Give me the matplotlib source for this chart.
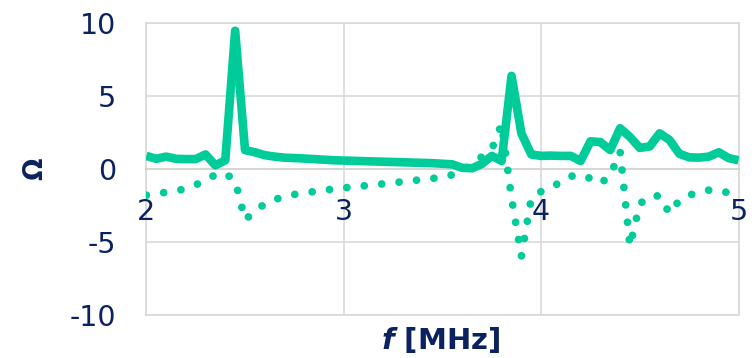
import matplotlib
matplotlib.use("Agg")
import matplotlib.pyplot as plt

# Frequency sweep (MHz) and impedance components (ohm)
freq = [2.00, 2.05, 2.10, 2.15, 2.20, 2.25, 2.30, 2.35, 2.40, 2.45,
        2.50, 2.55, 2.60, 2.65, 2.70, 2.75, 2.80, 2.85, 2.90, 2.95,
        3.00, 3.05, 3.10, 3.15, 3.20, 3.25, 3.30, 3.35, 3.40, 3.45,
        3.50, 3.55, 3.60, 3.65, 3.70, 3.75, 3.80, 3.85, 3.90, 3.95,
        4.00, 4.05, 4.10, 4.15, 4.20, 4.25, 4.30, 4.35, 4.40, 4.45,
        4.50, 4.55, 4.60, 4.65, 4.70, 4.75, 4.80, 4.85, 4.90, 4.95,
        5.00]

resistance = [0.90, 0.70, 0.85, 0.70, 0.68, 0.68, 1.00, 0.25, 0.60, 9.50,
              1.30, 1.15, 0.95, 0.85, 0.78, 0.75, 0.72, 0.68, 0.64, 0.60,
              0.58, 0.56, 0.54, 0.52, 0.50, 0.48, 0.46, 0.44, 0.42, 0.40,
              0.36, 0.32, 0.08, 0.05, 0.35, 0.90, 0.55, 6.40, 2.45, 1.00,
              0.90, 0.92, 0.90, 0.90, 0.55, 1.90, 1.85, 1.30, 2.80, 2.20,
              1.45, 1.55, 2.45, 2.00, 1.05, 0.80, 0.78, 0.85, 1.15, 0.75,
              0.60]

reactance = [-1.80, -1.70, -1.60, -1.50, -1.35, -1.10, -0.75, -0.40, -0.30, -0.80,
             -3.50, -2.90, -2.40, -2.10, -1.90, -1.75, -1.65, -1.55, -1.45, -1.38,
             -1.30, -1.23, -1.16, -1.09, -1.02, -0.95, -0.87, -0.80, -0.72, -0.65,
             -0.55, -0.40, -0.10, 0.35, 0.85, 1.35, 3.10, -2.00, -6.00, -2.00,
             -1.55, -1.25, -0.90, -0.50, -0.40, -0.65, -1.00, -0.45, 1.20, -5.30,
             -2.40, -1.85, -1.85, -3.05, -2.15, -1.80, -1.60, -1.45, -1.45, -1.65,
             -1.75]

x_ticks = [2, 3, 4, 5]
y_ticks = [-10, -5, 0, 5, 10]

teal = "#00CC99"
navy = "#0B2260"
grid_gray = "#D9D9D9"

plt.rcParams["font.family"] = ["DejaVu Sans"]
plt.rcParams["mathtext.fontset"] = "custom"
plt.rcParams["mathtext.it"] = "DejaVu Sans:italic:bold"
plt.rcParams["mathtext.rm"] = "DejaVu Sans:bold"

fig = plt.figure(figsize=(7.55, 3.58), dpi=100)
ax = fig.add_axes([0.1938, 0.1215, 0.7844, 0.8129])

ax.set_xlim(2, 5)
ax.set_ylim(-10, 10)
ax.set_xticks(x_ticks)
ax.set_yticks(y_ticks)
ax.set_xticklabels([str(t) for t in x_ticks])
ax.set_yticklabels([str(t) for t in y_ticks])

ax.grid(True, color=grid_gray, lw=1.2)
ax.set_axisbelow(True)

for side in ("left", "right", "top"):
    ax.spines[side].set_color(grid_gray)
    ax.spines[side].set_linewidth(1.2)
    ax.spines[side].set_zorder(0.5)
ax.spines["bottom"].set_position(("data", 0))
ax.spines["bottom"].set_color("#BFBFBF")
ax.spines["bottom"].set_linewidth(1.2)
ax.spines["bottom"].set_zorder(0.5)
ax.axhline(-10, color=grid_gray, lw=1.2, clip_on=False, zorder=0.5)

ax.tick_params(axis="both", length=0, labelsize=20.5, labelcolor=navy)
ax.tick_params(axis="x", pad=21)
ax.tick_params(axis="y", pad=22)

# Real part: thick solid line
ax.plot(freq, resistance, color=teal, lw=6.2, solid_joinstyle="round",
        solid_capstyle="butt", zorder=3)
# Imaginary part: round-dot line
ax.plot(freq, reactance, color=teal, lw=5.6, linestyle=(0, (0.001, 2.25)),
        dash_capstyle="round", dash_joinstyle="round", zorder=3)

ax.set_xlabel(r"$f$ [MHz]", fontsize=21, fontweight="bold", color=navy, va="center")
ax.xaxis.set_label_coords(0.4976, -0.0876)
ax.set_ylabel("Ω", fontsize=19, fontweight="bold", color=navy, va="center")
ax.yaxis.set_label_coords(-0.188, 0.5)

fig.savefig("out.png", dpi=100)
